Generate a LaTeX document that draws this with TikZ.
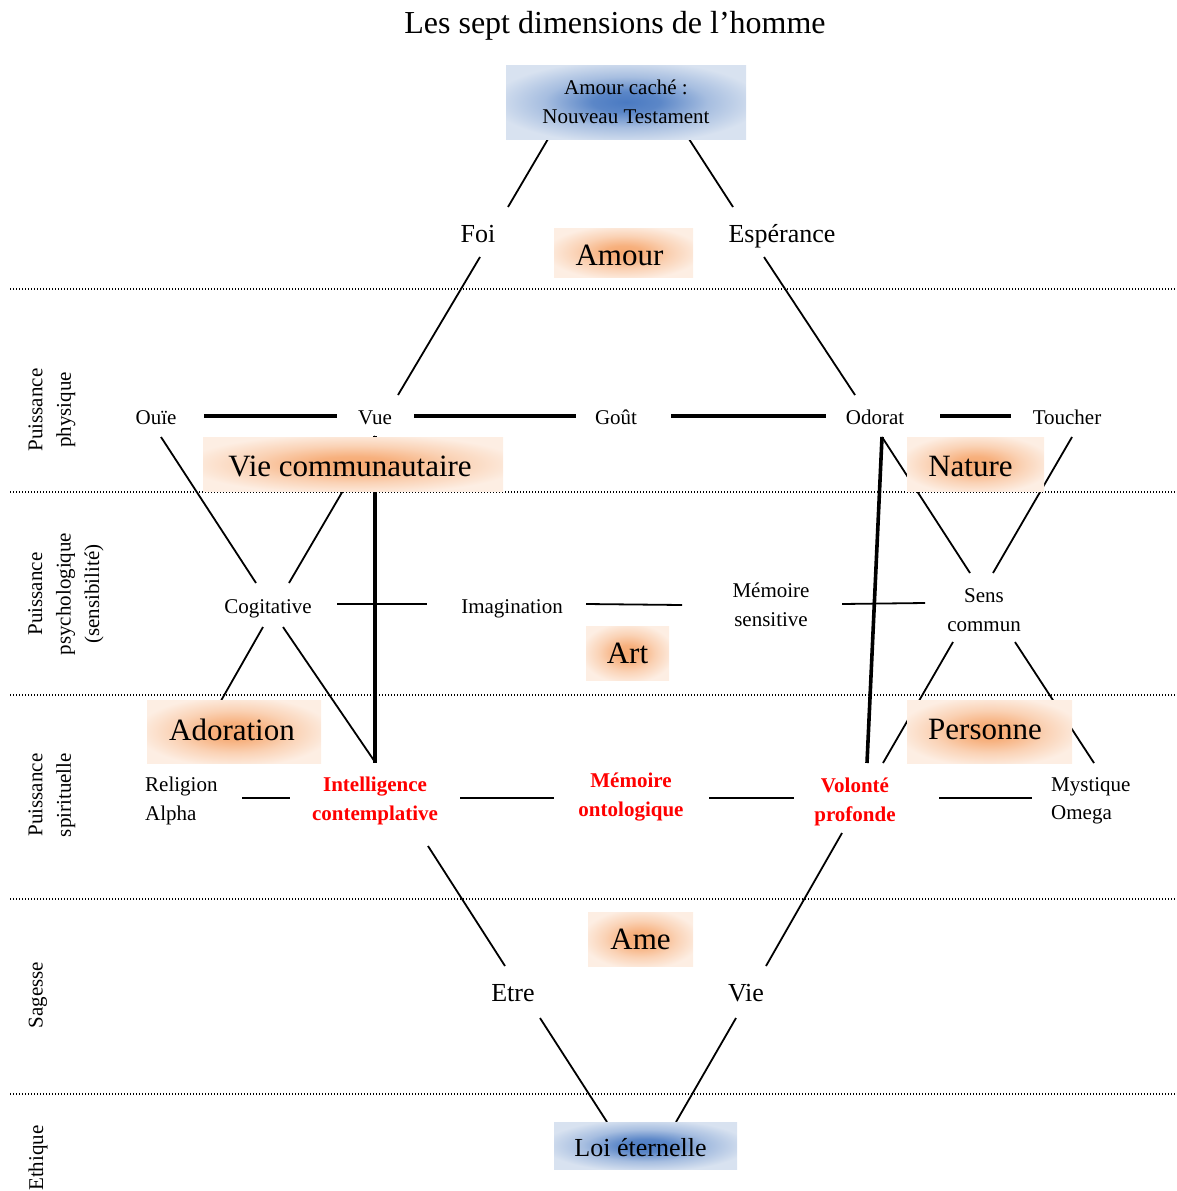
\documentclass[tikz,border=0pt]{standalone}
\usepackage{fontspec}
\setmainfont{Liberation Serif}
\definecolor{bluein}{HTML}{4A7AC2}
\definecolor{blueout}{HTML}{D8E2F0}
\definecolor{orin}{HTML}{F6A870}
\definecolor{orout}{HTML}{FDEEE3}
\definecolor{labred}{HTML}{FF0000}
\pgfdeclareradialshading{glowblue}{\pgfpoint{0bp}{0bp}}{color(0bp)=(bluein); color(7bp)=(bluein!88!blueout); color(17bp)=(bluein!35!blueout); color(28bp)=(blueout); color(50bp)=(blueout)}
\pgfdeclareradialshading{gloworange}{\pgfpoint{0bp}{0bp}}{color(0bp)=(orin); color(7bp)=(orin!88!orout); color(17bp)=(orin!40!orout); color(28bp)=(orout); color(50bp)=(orout)}
\tikzset{
  lab/.style={font=\fontsize{21}{28.5}\selectfont, inner sep=0pt, align=center},
  labL/.style={lab, align=left, anchor=west},
  one/.style={font=\fontsize{21}{28.5}\selectfont, inner sep=0pt, anchor=base},
  med/.style={font=\fontsize{26}{30}\selectfont, inner sep=0pt, anchor=base},
  redlab/.style={lab, text=labred, font=\fontsize{21}{28.5}\selectfont\bfseries},
  side/.style={lab, rotate=90},
  bbox/.style={shade, shading=glowblue, inner sep=0pt},
  obox/.style={shade, shading=gloworange, inner sep=0pt, font=\fontsize{31}{36}\selectfont},
  conn/.style={line width=1.8pt},
  heavy/.style={line width=3.6pt},
  midw/.style={line width=2.2pt},
  sep/.style={line width=1.1pt, dash pattern=on 1.1pt off 1.9pt}
}
\newcommand{\shiftl}[3]{\hspace*{-#1pt}\raisebox{-#2pt}[\height][\depth]{#3}}
\begin{document}
\begin{tikzpicture}[x=1pt,y=-1pt]
\useasboundingbox (0,0) rectangle (1176,1191);

% separators
\foreach \yy/\nm in {289/s1,492/s2,695/s3,899/s4,1094/s5}{
  \coordinate (\nm a) at (10,\yy);
  \coordinate (\nm b) at (1176,\yy);
  \draw[sep] (\nm a) -- (\nm b);
}

% title
\node[font=\fontsize{32}{36}\selectfont, inner sep=0pt, anchor=base] (title) at (615,33) {Les sept dimensions de l’homme};

% side labels
\node[side] (physique) at (52,410) {Puissance\\physique};
\node[side] (psycho) at (66,594) {Puissance\\psychologique\\(sensibilité)};
\node[side] (spirit) at (52,795) {Puissance\\spirituelle};
\node[side] (sagesse) at (38,995) {Sagesse};
\node[side] (ethique) at (38,1158) {Ethique};

% connector end points
\coordinate (c1a) at (548,139); \coordinate (c1b) at (508,207);
\coordinate (c2a) at (689,139); \coordinate (c2b) at (733,207);
\coordinate (c3a) at (480,257); \coordinate (c3b) at (398,395);
\coordinate (c4a) at (764,257); \coordinate (c4b) at (855,395);
\coordinate (h1a) at (204,416); \coordinate (h1b) at (337,416);
\coordinate (h2a) at (414,416); \coordinate (h2b) at (576,416);
\coordinate (h3a) at (671,416); \coordinate (h3b) at (826,416);
\coordinate (h4a) at (940,416); \coordinate (h4b) at (1011,416);
\coordinate (d1a) at (161,437); \coordinate (d1b) at (256,583);
\coordinate (d2a) at (375,436); \coordinate (d2b) at (289,583);
\coordinate (v1a) at (375,436); \coordinate (v1b) at (375,763);
\coordinate (od) at (882,437);
\coordinate (v2b) at (867,763);
\coordinate (d3b) at (970,573);
\coordinate (d4a) at (1072,437); \coordinate (d4b) at (993,573);
\coordinate (m1a) at (337,604); \coordinate (m1b) at (427,604);
\coordinate (m2a) at (586,604); \coordinate (m2b) at (682,605);
\coordinate (m3a) at (842,604); \coordinate (m3b) at (925,603);
\coordinate (d5a) at (263,627); \coordinate (d5b) at (218,706);
\coordinate (d6a) at (283,627); \coordinate (d6b) at (375,762);
\coordinate (d7a) at (953,642); \coordinate (d7b) at (883,763);
\coordinate (d8a) at (1015,642); \coordinate (d8b) at (1094,763);
\coordinate (r1a) at (242,798); \coordinate (r1b) at (290,798);
\coordinate (r2a) at (460,798); \coordinate (r2b) at (554,798);
\coordinate (r3a) at (709,798); \coordinate (r3b) at (794,798);
\coordinate (r4a) at (939,798); \coordinate (r4b) at (1032,798);
\coordinate (e1a) at (428,846); \coordinate (e1b) at (505,966);
\coordinate (e2a) at (842,833); \coordinate (e2b) at (766,966);
\coordinate (e3a) at (540,1018); \coordinate (e3b) at (607,1122);
\coordinate (e4a) at (736,1018); \coordinate (e4b) at (676,1122);

% connectors
\draw[conn] (c1a) -- (c1b);
\draw[conn] (c2a) -- (c2b);
\draw[conn] (c3a) -- (c3b);
\draw[conn] (c4a) -- (c4b);
\draw[heavy] (h1a) -- (h1b);
\draw[heavy] (h2a) -- (h2b);
\draw[heavy] (h3a) -- (h3b);
\draw[heavy] (h4a) -- (h4b);
\draw[conn] (d1a) -- (d1b);
\draw[conn] (d2a) -- (d2b);
\draw[heavy] (v1a) -- (v1b);
\draw[heavy] (od) -- (v2b);
\draw[conn] (od) -- (d3b);
\draw[conn] (d4a) -- (d4b);
\draw[conn] (m1a) -- (m1b);
\draw[conn] (m2a) -- (m2b);
\draw[conn] (m3a) -- (m3b);
\draw[conn] (d5a) -- (d5b);
\draw[conn] (d6a) -- (d6b);
\draw[conn] (d7a) -- (d7b);
\draw[conn] (d8a) -- (d8b);
\draw[midw] (r1a) -- (r1b);
\draw[midw] (r2a) -- (r2b);
\draw[midw] (r3a) -- (r3b);
\draw[midw] (r4a) -- (r4b);
\draw[conn] (e1a) -- (e1b);
\draw[conn] (e2a) -- (e2b);
\draw[conn] (e3a) -- (e3b);
\draw[conn] (e4a) -- (e4b);

% shaded boxes
\node[bbox, minimum width=240, minimum height=74, lab] (nt) at (626,102) {Amour caché :\\Nouveau Testament};
\node[obox, minimum width=139, minimum height=49] (amour) at (623.5,252.5) {\shiftl{8}{3}{Amour}};
\node[obox, minimum width=300, minimum height=54] (viecom) at (353,464) {\shiftl{6}{2}{Vie communautaire}};
\node[obox, minimum width=137, minimum height=54] (nature) at (975.5,464) {\shiftl{10}{2}{Nature}};
\node[obox, minimum width=83, minimum height=54] (art) at (627.5,653) {Art};
\node[obox, minimum width=174, minimum height=63] (adoration) at (234,731.5) {\shiftl{4}{-2}{Adoration}};
\node[obox, minimum width=165, minimum height=63] (personne) at (989.5,731.5) {\shiftl{9}{-2}{Personne}};
\node[obox, minimum width=105, minimum height=54] (ame) at (640.5,939) {Ame};
\node[bbox, minimum width=183, minimum height=47, font=\fontsize{26}{30}\selectfont] (loi) at (645.5,1145.5) {\shiftl{10}{2}{Loi éternelle}};

% text nodes
\node[med] (foi) at (478,242) {Foi};
\node[med] (esperance) at (782,242) {Espérance};
\node[one] (ouie) at (156,424) {Ouïe};
\node[one] (vue) at (375,424) {Vue};
\node[one] (gout) at (616,424) {Goût};
\node[one] (odorat) at (875,424) {Odorat};
\node[one] (toucher) at (1067,424) {Toucher};
\node[one] (cogit) at (268,613) {Cogitative};
\node[one] (imag) at (512,613) {Imagination};
\node[lab] (memsens) at (771,605) {Mémoire\\sensitive};
\node[lab] (sens) at (984,610) {Sens\\commun};
\node[labL] (religion) at (145,801) {Religion\\Alpha};
\node[redlab] (intel) at (375,801) {Intelligence\\contemplative};
\node[redlab] (memonto) at (631,797) {Mémoire\\ontologique};
\node[redlab] (volonte) at (855,802) {Volonté\\profonde};
\node[labL] (mystique) at (1051,801) {Mystique\\Omega};
\node[med] (etre) at (513,1001) {Etre};
\node[med] (vie) at (746,1001) {Vie};
\end{tikzpicture}
\end{document}
